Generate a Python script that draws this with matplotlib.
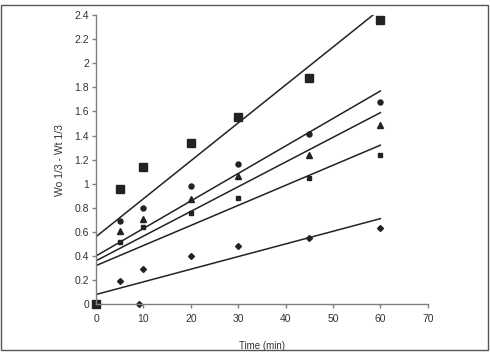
import matplotlib
matplotlib.use("Agg")
import matplotlib.pyplot as plt
from matplotlib.patches import Rectangle

plt.rcParams['font.family'] = ['Liberation Sans', 'DejaVu Sans']

# measured points
t = [0, 5, 10, 20, 30, 45, 60]
big_sq = [0, 0.96, 1.14, 1.34, 1.55, 1.88, 2.36]
circ = [0.69, 0.80, 0.98, 1.16, 1.41, 1.68]
tri = [0.61, 0.71, 0.87, 1.06, 1.24, 1.49]
small_sq = [0.52, 0.64, 0.76, 0.88, 1.05, 1.24]
diam_t = [5, 9, 10, 20, 30, 45, 60]
diam = [0.19, 0, 0.29, 0.40, 0.48, 0.55, 0.63]

# fitted lines (intercept at 0, value at 60)
fit_x = [0, 60]
fit_big = [0.56, 2.45]
fit_circ = [0.40, 1.77]
fit_tri = [0.36, 1.59]
fit_small = [0.32, 1.32]
fit_diam = [0.08, 0.71]

xticks = [0, 10, 20, 30, 40, 50, 60, 70]
yticks = [0, 0.2, 0.4, 0.6, 0.8, 1, 1.2, 1.4, 1.6, 1.8, 2, 2.2, 2.4]

dark = '#222222'
grey = '#808080'

fig = plt.figure(figsize=(4.9, 3.52), dpi=100)
ax = fig.add_axes([0.196, 0.136, 0.677, 0.821])

for ys in [fit_big, fit_circ, fit_tri, fit_small, fit_diam]:
    ax.plot(fit_x, ys, color=dark, lw=1.1)

ax.plot(t, big_sq, 's', color=dark, ms=5.8, clip_on=False)
ax.plot(t[1:], circ, 'o', color=dark, ms=3.6)
ax.plot(t[1:], tri, '^', color=dark, ms=4.2)
ax.plot(t[1:], small_sq, 's', color=dark, ms=3.4)
ax.plot(diam_t, diam, 'D', color=dark, ms=3.0, clip_on=False)

ax.set_xlim(0, 70)
ax.set_ylim(0, 2.4)
ax.set_xticks(xticks)
ax.set_yticks(yticks)
ax.set_yticklabels([('%g' % v) for v in yticks])

for s in ['top', 'right']:
    ax.spines[s].set_visible(False)
for s in ['left', 'bottom']:
    ax.spines[s].set_color(grey)
    ax.spines[s].set_linewidth(1.0)
ax.tick_params(colors=grey, length=3, width=1.0, labelcolor='#333333', labelsize=7.5, pad=2)
ax.tick_params(axis='x', pad=4)

ax.set_xlabel('Time (min)', fontsize=7, color='#333333', labelpad=12)
ax.set_ylabel('Wo 1/3 - Wt 1/3', fontsize=7.5, color='#333333', labelpad=7)

fig.patches.append(Rectangle((0.003, 0.006), 0.992, 0.981, transform=fig.transFigure,
                             fill=False, edgecolor='#555555', lw=1.0))

fig.savefig('out.png', dpi=100)
